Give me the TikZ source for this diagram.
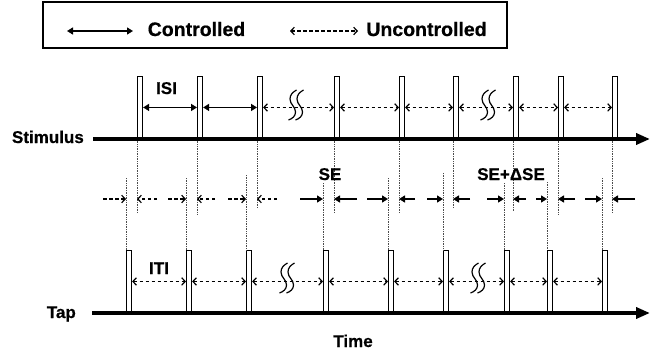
\documentclass[tikz,border=0pt]{standalone}
\usepackage{fontspec}
\setmainfont{Liberation Sans}[BoldFeatures={FakeBold=0.6}]
\usetikzlibrary{arrows.meta}
\begin{document}
\begin{tikzpicture}[x=1pt,y=-1pt,
  bar/.style={draw,fill=white,minimum width=5pt,minimum height=62pt,inner sep=0pt,line width=1.1pt,anchor=south west},
  axisline/.style={line width=3.5pt,-{Triangle[length=14pt,width=11pt]}},
  ctrl/.style={line width=1.4pt,{Triangle[length=6pt,width=7pt]}-{Triangle[length=6pt,width=7pt]}},
  unctrl/.style={line width=1.2pt,dash pattern=on 3.5pt off 2.5pt,{Straight Barb[length=3.5pt,width=7.5pt]}-{Straight Barb[length=3.5pt,width=7.5pt]}},
  ctrlone/.style={line width=1.4pt,-{Triangle[length=6pt,width=7pt]}},
  unctrlone/.style={line width=1.2pt,dash pattern=on 3.5pt off 2.5pt,-{Straight Barb[length=3.5pt,width=7.5pt]}},
  guide/.style={line width=0.7pt,densely dotted,black!70},
  squig/.style={line width=1.2pt},
  lab/.style={font=\fontsize{17}{17}\selectfont\bfseries,inner sep=0pt},
  leg/.style={font=\fontsize{19.5}{19.5}\selectfont\bfseries,inner sep=0pt,anchor=base}]
\useasboundingbox (0,0) rectangle (655,353);

% legend
\node[draw,line width=1.5pt,minimum width=464pt,minimum height=46pt,inner sep=0pt] (legend) at (275,25) {};
\coordinate (la1) at (67,31);
\coordinate (la2) at (133,31);
\draw[ctrl] (la1) -- (la2);
\node[leg] (lc) at (196.5,36) {Controlled};
\coordinate (lb1) at (290,31);
\coordinate (lb2) at (358,31);
\draw[unctrl] (lb1) -- (lb2);
\node[leg] (lu) at (426.5,36) {Uncontrolled};

% axes
\node[lab,anchor=base east] (stimlab) at (84,143) {Stimulus};
\node[lab,anchor=base east] (taplab) at (76,318) {Tap};
\node[lab,anchor=base] (timelab) at (353,347) {Time};
\coordinate (sa0) at (93,139);
\coordinate (sa1) at (650,139);
\coordinate (ta0) at (92,313);
\coordinate (ta1) at (650,313);

% stimulus bars and guides
\foreach \i/\x/\yb in {1/137/213,2/197/214,3/257/208,4/334/213,5/399/213,6/453/208,7/513/212,8/558/215,9/612/213}{
  \node[bar] (s\i) at (\x,139) {};
  \coordinate (sg\i) at (\x,\yb);
  \draw[guide] (s\i.south west) -- (sg\i);
}
% tap bars and guides
\foreach \i/\x/\yt in {1/126/178,2/186/178,3/246/175,4/323/183,5/388/178,6/443/173,7/504/183,8/547/182,9/602/178}{
  \node[bar] (t\i) at (\x,313) {};
  \coordinate (tg\i) at (\x,\yt);
  \draw[guide] (tg\i) -- (t\i.north west);
}
\draw[axisline] (sa0) -- (sa1);
\draw[axisline] (ta0) -- (ta1);

% stimulus intervals
\draw[ctrl] (s1.east) -- (s2.west);
\draw[ctrl] (s2.east) -- (s3.west);
\foreach \a/\b in {3/4,4/5,5/6,6/7,7/8,8/9}{
  \draw[unctrl] (s\a.east) -- (s\b.west);
}
% tap intervals
\foreach \a/\b in {1/2,2/3,3/4,4/5,5/6,6/7,7/8,8/9}{
  \draw[unctrl] (t\a.east) -- (t\b.west);
}

% squiggles
\foreach \n/\cx/\cy in {q1/296/105,q2/488/105,q3/287/278,q4/478/278}{
  \coordinate (\n) at (\cx,\cy);
  \foreach \dx in {-3.5,3.5}{
    \draw[squig] ([xshift=\dx pt+4pt,yshift=15pt]\n) to[out=210,in=90] ([xshift=\dx pt-2.5pt,yshift=6pt]\n)
      to[out=-90,in=90] ([xshift=\dx pt+3pt,yshift=-7pt]\n) to[out=-90,in=20] ([xshift=\dx pt-4pt,yshift=-15pt]\n);
  }
}

% synchronization error row
\foreach \i/\xr/\xl in {1/103/157,2/168/215,3/228/277}{
  \coordinate (r\i) at (\xr,199);
  \coordinate (l\i) at (\xl,199);
  \draw[unctrlone] (r\i) -- (t\i.north west |- r\i);
  \draw[unctrlone] (l\i) -- (s\i.north west |- l\i);
}
\foreach \i/\xr/\xl in {4/300/357,5/367/415,6/427/470,7/487/526,8/536/575,9/585/635}{
  \coordinate (r\i) at (\xr,199);
  \coordinate (l\i) at (\xl,199);
  \draw[ctrlone] (r\i) -- (t\i.north west |- r\i);
  \draw[ctrlone] (l\i) -- (s\i.north west |- l\i);
}

% labels
\node[lab,anchor=base] (isi) at (166.5,94) {ISI};
\node[lab,anchor=base] (iti) at (159,274) {ITI};
\node[lab,anchor=base] (se) at (330,180) {SE};
\node[lab,anchor=base] (sed) at (511,180) {SE+ΔSE};
\end{tikzpicture}
\end{document}
